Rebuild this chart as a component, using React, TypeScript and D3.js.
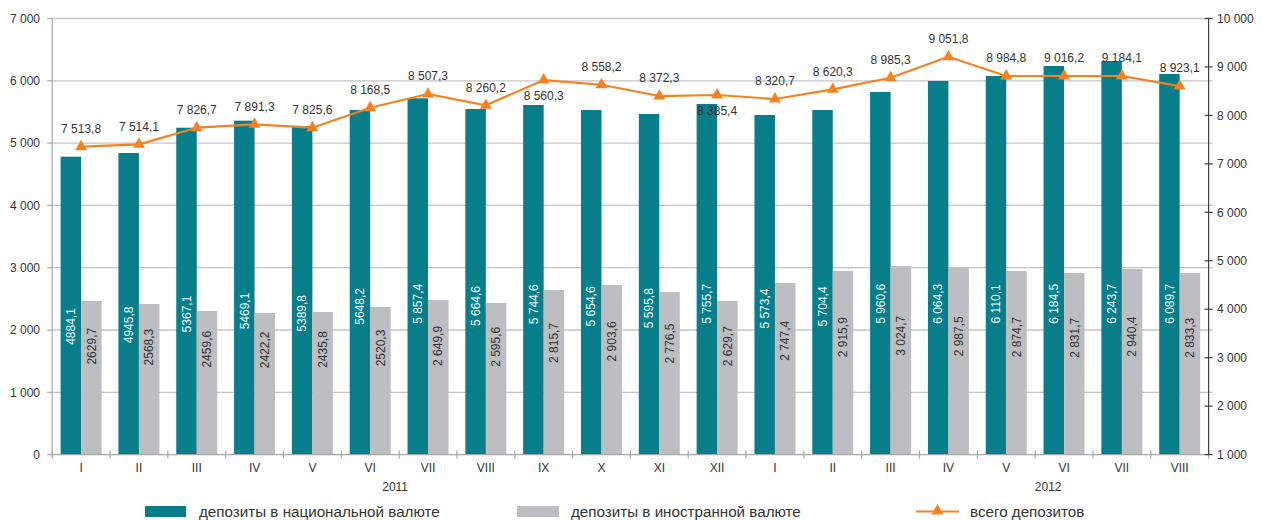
import React from "react";
import * as d3 from "d3";

const months = ["I","II","III","IV","V","VI","VII","VIII","IX","X","XI","XII","I","II","III","IV","V","VI","VII","VIII"];
const years = ["2011", "2012"];

// bar heights
const nationalValues = [4782,4841,5247,5360,5274,5531,5719,5547,5612,5531,5467,5628,5451,5531,5820,5997,6077,6238,6318,6109];
const foreignValues = [2466,2417,2305,2273,2289,2369,2482,2433,2642,2722,2610,2466,2754,2947,3027,2995,2947,2915,2979,2915];
const totalValues = [7354,7403,7746,7816,7746,8159,8441,8208,8730,8633,8400,8421,8338,8538,8778,9211,8813,8813,8813,8606];

// data labels as printed on the chart
const nationalLabels = ["4884,1","4945,8","5367,1","5469,1","5389,8","5648,2","5 857,4","5 664,6","5 744,6","5 654,6","5 595,8","5 755,7","5 573,4","5 704,4","5 960,6","6 064,3","6 110,1","6 184,5","6 243,7","6 089,7"];
const foreignLabels = ["2629,7","2568,3","2459,6","2422,2","2435,8","2520,3","2 649,9","2 595,6","2 815,7","2 903,6","2 776,5","2 629,7","2 747,4","2 915,9","3 024,7","2 987,5","2 874,7","2 831,7","2 940,4","2 833,3"];
const totalLabels = ["7 513,8","7 514,1","7 826,7","7 891,3","7 825,6","8 168,5","8 507,3","8 260,2","8 560,3","8 558,2","8 372,3","8 385,4","8 320,7","8 620,3","8 985,3","9 051,8","8 984,8","9 016,2","9 184,1","8 923,1"];
const totalLabelsBelow = [8, 11];

const leftTicks = [0,1000,2000,3000,4000,5000,6000,7000];
const rightTicks = [1000,2000,3000,4000,5000,6000,7000,8000,9000,10000];

const legendNames = ["депозиты в национальной валюте", "депозиты в иностранной валюте", "всего депозитов"];

const TEAL = "#087e8b";
const GREY = "#bdbec1";
const ORANGE = "#f58220";
const TEXT = "#333333";
const FONT = "'Liberation Sans', Arial, sans-serif";

const loc = d3.formatLocale({ decimal: ",", thousands: " ", grouping: [3], currency: ["", ""] });
const fmt = loc.format(",d");

export default function App() {
  const W = 1263, H = 520;
  const x0 = 52.2, x1 = 1208.6, yTop = 18.5, yBot = 454.6;
  const idx = months.map((_, i) => i);
  const x = d3.scaleBand<number>().domain(idx).range([x0, x1]).paddingInner(0).paddingOuter(0);
  const sub = d3.scaleBand<string>().domain(["n", "f"]).range([0, x.bandwidth()]).paddingInner(0).paddingOuter(0.41);
  const yL = d3.scaleLinear().domain([0, 7000]).range([yBot, yTop]);
  const yR = d3.scaleLinear().domain([1000, 10000]).range([yBot, yTop]);
  const cx = (i: number) => (x(i) as number) + x.bandwidth() / 2;

  const line = d3.line<number>().x((_, i) => cx(i)).y((d) => yR(d));
  const tri = d3.symbol().type(d3.symbolTriangle).size(62)();

  const year2011X = (x(5) as number) + x.bandwidth() - 4;
  const year2012X = (x(17) as number) + 13;

  return (
    <svg width={W} height={H} style={{ position: "absolute", left: 0, top: 0, background: "#fff" }} fontFamily={FONT}>
      {/* grid */}
      {leftTicks.filter((t) => t > 0).map((t) => (
        <line key={"g" + t} x1={x0} x2={x1 + 4} y1={yL(t)} y2={yL(t)} stroke="#c4c4c4" strokeWidth={1.3} />
      ))}
      {/* bars */}
      {nationalValues.map((v, i) => (
        <rect key={"n" + i} x={(x(i) as number) + (sub("n") as number)} y={yL(v)} width={sub.bandwidth()} height={yBot - yL(v)} fill={TEAL} />
      ))}
      {foreignValues.map((v, i) => (
        <rect key={"f" + i} x={(x(i) as number) + (sub("f") as number)} y={yL(v)} width={sub.bandwidth()} height={yBot - yL(v)} fill={GREY} />
      ))}
      {/* axes */}
      <line x1={x0} x2={x0} y1={yTop} y2={yBot} stroke="#a6a6a6" strokeWidth={1.2} />
      <line x1={x0} x2={x1} y1={yBot} y2={yBot} stroke="#a6a6a6" strokeWidth={1.2} />
      {leftTicks.map((t) => (
        <g key={"lt" + t}>
          <line x1={x0 - 5} x2={x0} y1={yL(t)} y2={yL(t)} stroke="#a6a6a6" strokeWidth={1.2} />
          <text x={40} y={yL(t)} dy="0.35em" textAnchor="end" fontSize={12} fill={TEXT}>{fmt(t)}</text>
        </g>
      ))}
      {idx.concat([months.length]).map((i) => {
        const xx = x0 + i * x.step();
        return <line key={"xt" + i} x1={xx} x2={xx} y1={yBot - 4} y2={yBot + 4} stroke="#a6a6a6" strokeWidth={1.2} />;
      })}
      {months.map((m, i) => (
        <text key={"m" + i} x={cx(i)} y={472} textAnchor="middle" fontSize={12} fill={TEXT}>{m}</text>
      ))}
      <text x={year2011X} y={491} textAnchor="middle" fontSize={12} fill={TEXT}>{years[0]}</text>
      <text x={year2012X} y={491} textAnchor="middle" fontSize={12} fill={TEXT}>{years[1]}</text>
      <line x1={x1} x2={x1} y1={yTop} y2={yBot} stroke="#404040" strokeWidth={1.2} />
      {rightTicks.map((t) => (
        <g key={"rt" + t}>
          <line x1={x1 - 4} x2={x1 + 4} y1={yR(t)} y2={yR(t)} stroke="#404040" strokeWidth={1.2} />
          <text x={1217} y={yR(t)} dy="0.35em" textAnchor="start" fontSize={12} fill={TEXT}>{fmt(t)}</text>
        </g>
      ))}
      {/* bar labels */}
      {nationalLabels.map((s, i) => {
        const tx = (x(i) as number) + (sub("n") as number) + sub.bandwidth() / 2;
        const ty = yL(Math.min(nationalValues[i] * 0.43, 2420));
        return (
          <text key={"nl" + i} transform={`translate(${tx},${ty}) rotate(-90)`} textAnchor="middle" dy="0.35em" fontSize={12} fill="#eaf6f6">{s}</text>
        );
      })}
      {foreignLabels.map((s, i) => {
        const tx = (x(i) as number) + (sub("f") as number) + sub.bandwidth() / 2;
        const ty = yL(1000 + foreignValues[i] * 0.3);
        return (
          <text key={"fl" + i} transform={`translate(${tx},${ty}) rotate(-90)`} textAnchor="middle" dy="0.35em" fontSize={12} fill={TEXT}>{s}</text>
        );
      })}
      {/* total line */}
      <path d={line(totalValues) || ""} fill="none" stroke={ORANGE} strokeWidth={2.2} strokeLinejoin="round" />
      {totalValues.map((v, i) => (
        <path key={"tm" + i} d={tri || ""} transform={`translate(${cx(i)},${yR(v)})`} fill={ORANGE} />
      ))}
      {totalLabels.map((s, i) => {
        const below = totalLabelsBelow.includes(i);
        return (
          <text key={"tl" + i} x={cx(i)} y={yR(totalValues[i]) + (below ? 16 : -18)} dy="0.35em" textAnchor="middle" fontSize={12} fill={TEXT}>{s}</text>
        );
      })}
      {/* legend */}
      <rect x={145} y={506} width={41} height={11} fill={TEAL} />
      <text x={199} y={511.5} dy="0.35em" fontSize={15.2} fill={TEXT}>{legendNames[0]}</text>
      <rect x={517} y={506} width={42} height={11} fill={GREY} />
      <text x={571} y={511.5} dy="0.35em" fontSize={15.2} fill={TEXT}>{legendNames[1]}</text>
      <line x1={916} x2={959} y1={511.5} y2={511.5} stroke={ORANGE} strokeWidth={2.2} />
      <path d={tri || ""} transform={`translate(937.5,511)`} fill={ORANGE} />
      <text x={970} y={511.5} dy="0.35em" fontSize={15.2} fill={TEXT}>{legendNames[2]}</text>
    </svg>
  );
}
